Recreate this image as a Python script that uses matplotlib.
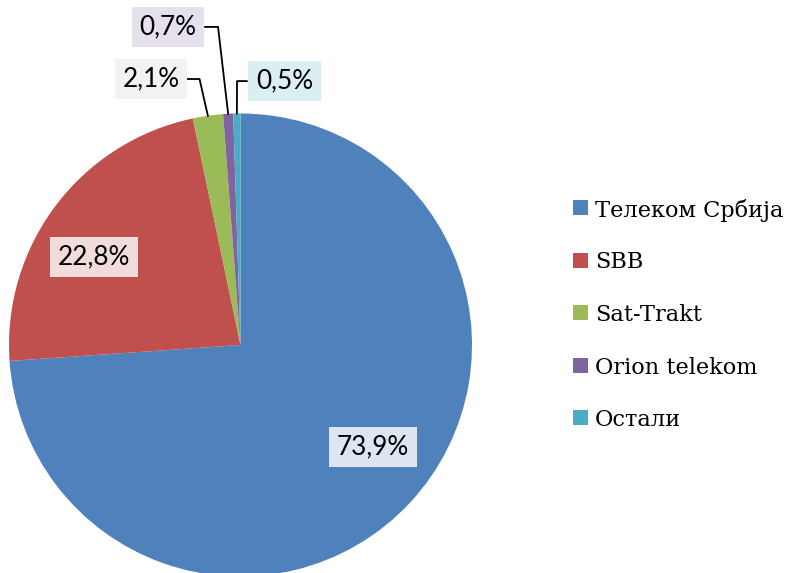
import matplotlib
matplotlib.use('Agg')
import matplotlib.pyplot as plt
from matplotlib.patches import Rectangle
import numpy as np

# данни
categories = ['Телеком Србија', 'SBB', 'Sat-Trakt', 'Orion telekom', 'Остали']
shares = [73.9, 22.8, 2.1, 0.7, 0.5]
pct_labels = ['73,9%', '22,8%', '2,1%', '0,7%', '0,5%']

colors = ['#4F81BD', '#C0504D', '#9BBB59', '#8064A2', '#4BACC6']
box_colors = ['#DCE6F2', '#F2DCDB', '#F2F2F2', '#E6E0EC', '#DBEEF3']

W, H = 785, 573
fig = plt.figure(figsize=(W / 100, H / 100), dpi=100)

# pie geometry in pixels
cx, cy, r = 240.5, 345, 231.5
ax = fig.add_axes([(cx - r) / W, (H - cy - r) / H, 2 * r / W, 2 * r / H])

wedges, _ = ax.pie(shares, colors=colors, startangle=90, counterclock=False,
                   radius=1, center=(0, 0), frame=True,
                   wedgeprops=dict(linewidth=0))
ax.set_xlim(-1, 1)
ax.set_ylim(-1, 1)
ax.set_aspect('equal')
ax.axis('off')
for w in wedges:
    w.set_clip_on(False)

# label positions (radius units) and leader elbows
label_pos = [(0.572, -0.44), (-0.631, 0.38), (-0.387, 1.149), (-0.313, 1.374), (0.19, 1.14)]
leaders = {2: ((-0.23, 1.149), (-0.177, 1.149)),
           3: ((-0.153, 1.374), (-0.097, 1.374)),
           4: ((0.027, 1.14), (-0.015, 1.14))}

theta = 90.0
for i, (s, lab) in enumerate(zip(shares, pct_labels)):
    span = s / 100 * 360
    mid = np.deg2rad(theta - span / 2)
    theta -= span
    x, y = label_pos[i]
    ax.text(x, y, lab, ha='center', va='center', fontsize=18.8, family='Lato',
            color='black', clip_on=False, zorder=5,
            bbox=dict(boxstyle='square,pad=0.3', fc=box_colors[i], ec='none'))
    if i in leaders:
        (sx, sy), (ex, ey) = leaders[i]
        ax.plot([sx, ex, np.cos(mid)], [sy, ey, np.sin(mid)],
                color='black', lw=1.3, clip_on=False, zorder=4)

# legend
for i, (c, name) in enumerate(zip(colors, categories)):
    yc = 207.5 + i * 52.5
    fig.patches.append(Rectangle((573 / W, 1 - (yc + 7.5) / H), 15 / W, 15 / H,
                                 transform=fig.transFigure, fc=c, ec='none'))
    fig.text(595 / W, 1 - yc / H, name, ha='left', va='center_baseline',
             family='DejaVu Serif', fontsize=16.2, color='black')

fig.savefig('out.png', dpi=100)
